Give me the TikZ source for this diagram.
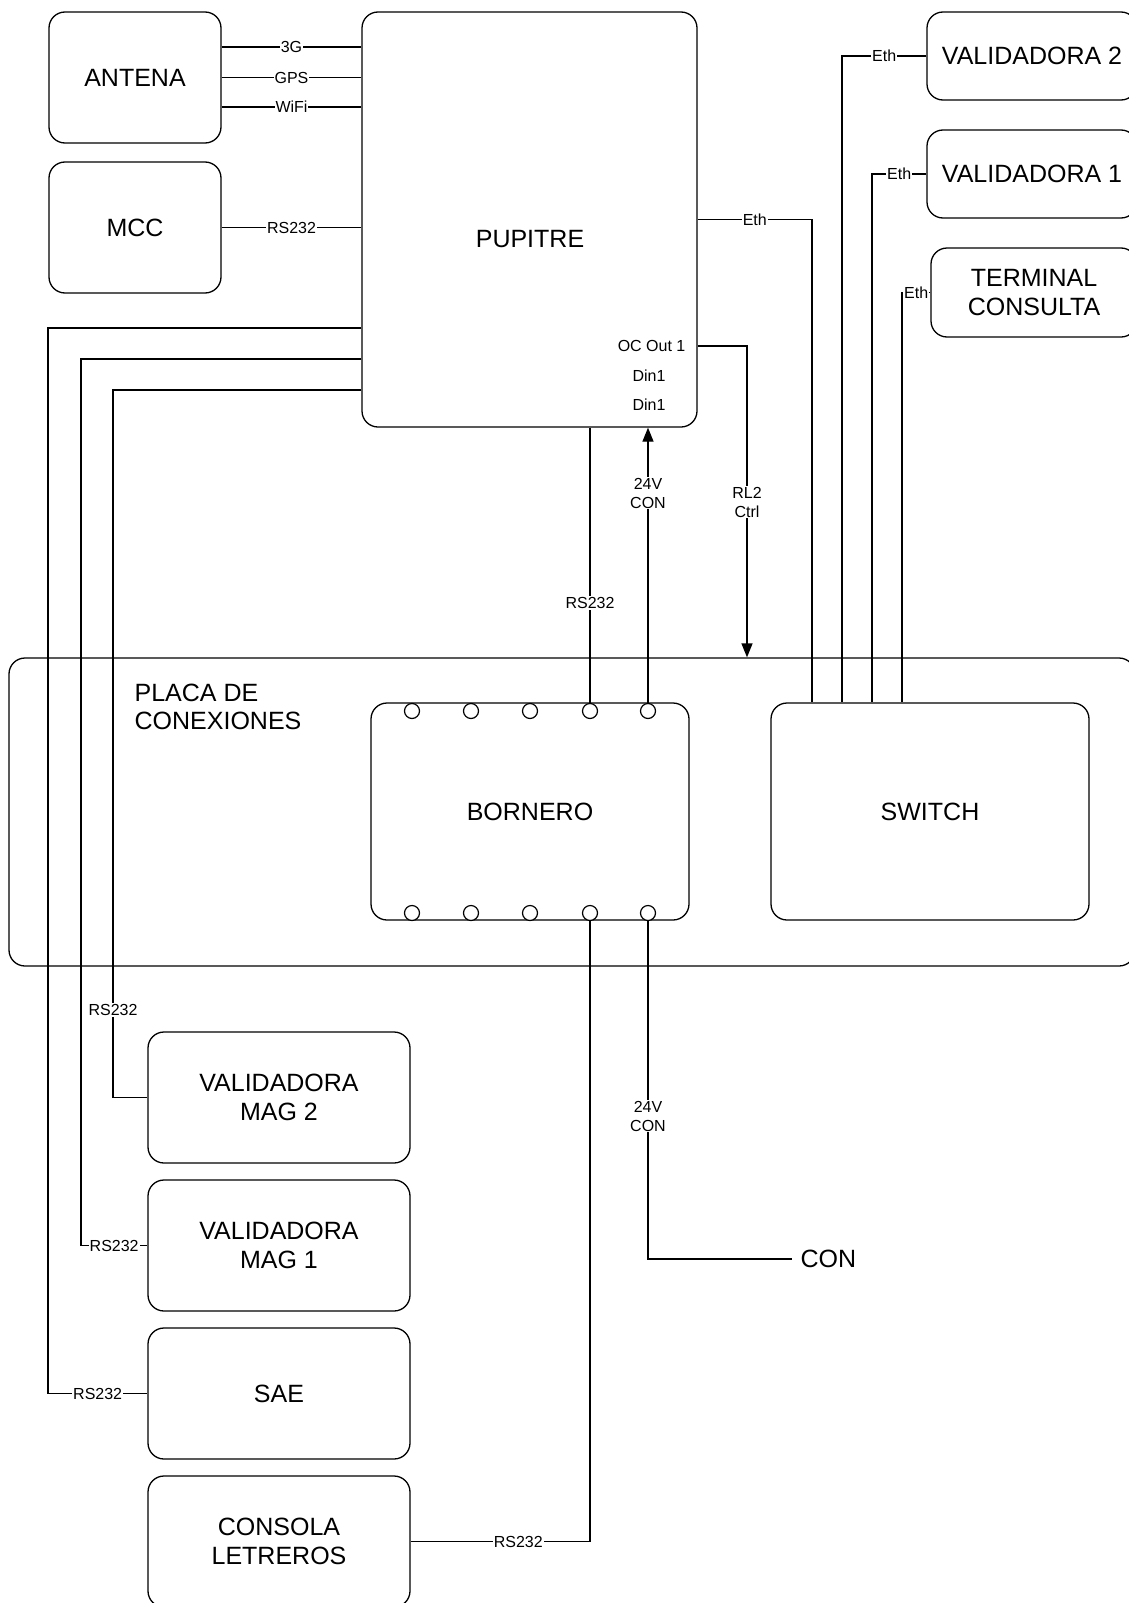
\documentclass[tikz,border=0pt]{standalone}
\usepackage{fontspec}
\setmainfont{Liberation Sans}
\usetikzlibrary{arrows.meta}
\newcommand{\bigtxt}{\fontsize{25}{28.5}\selectfont}
\newcommand{\smalltxt}{\fontsize{16}{19}\selectfont}

\begin{document}
\begin{tikzpicture}[x=1pt, y=-1pt, line width=1.3pt,
    box/.style={draw, rounded corners=16pt, align=center, font=\bigtxt, inner sep=0pt},
    lbl/.style={fill=white, inner sep=1pt, align=center, font=\smalltxt},
    port/.style={inner sep=0pt, font=\smalltxt},
    borne/.style={draw, circle, fill=white, minimum size=15pt, inner sep=0pt, line width=1.2pt},
    arr/.style={-{Triangle[length=14pt,width=11pt]}}]
    \useasboundingbox (0,0) rectangle (1129,1603);
    \clip (0,0) rectangle (1129,1603);

    % Top boxes
    \node[box, minimum width=172pt, minimum height=131pt] (antena) at (135,77.5) {ANTENA};
    \node[box, minimum width=172pt, minimum height=131pt] (mcc) at (135,227.5) {MCC};
    \node[box, minimum width=335pt, minimum height=415pt] (pupitre) at (529.5,219.5) {};
    \node[font=\bigtxt] (pupitrelbl) at (530,239) {PUPITRE};
    \node[box, minimum width=210pt, minimum height=88pt] (val2) at (1032,56) {VALIDADORA 2};
    \node[box, minimum width=210pt, minimum height=88pt] (val1) at (1032,174) {VALIDADORA 1};
    \node[box, minimum width=206pt, minimum height=89pt] (terminal) at (1034,292.5) {TERMINAL\\CONSULTA};

    % Ports
    \node[port, anchor=east] (ocout) at (686,346) {OC Out 1};
    \node[port] (din1a) at (649,376) {Din1};
    \node[port] (din1b) at (649,405) {Din1};

    % Placa de conexiones
    \node[box, minimum width=1126pt, minimum height=308pt] (placa) at (572,812) {};
    \node[font=\bigtxt, align=left, anchor=north west, inner sep=0pt] (placalbl) at (134,683) {PLACA DE\\CONEXIONES};
    \node[box, minimum width=318pt, minimum height=217pt] (bornero) at (530,811.5) {BORNERO};
    \node[box, minimum width=318pt, minimum height=217pt] (switch) at (930,811.5) {SWITCH};
    \foreach \i/\x in {1/412,2/471,3/530,4/590,5/648} {
        \node[borne] (bsup\i) at (\x,711) {};
        \node[borne] (binf\i) at (\x,913) {};
    }

    % Bottom boxes
    \node[box, minimum width=262pt, minimum height=131pt] (mag2) at (279,1097.5) {VALIDADORA\\MAG 2};
    \node[box, minimum width=262pt, minimum height=131pt] (mag1) at (279,1245.5) {VALIDADORA\\MAG 1};
    \node[box, minimum width=262pt, minimum height=131pt] (sae) at (279,1393.5) {SAE};
    \node[box, minimum width=262pt, minimum height=131pt] (consola) at (279,1541.5) {CONSOLA\\LETREROS};
    \node[font=\bigtxt, anchor=west, inner sep=8pt] (con) at (792,1259) {CON};

    % Antena / MCC
    \draw (antena.east |- 0,47) -- node[lbl] {3G} (pupitre.west |- 0,47);
    \draw (antena.east) -- node[lbl] {GPS} (pupitre.west |- antena.east);
    \draw (antena.east |- 0,107) -- node[lbl] {WiFi} (pupitre.west |- 0,107);
    \draw (mcc.east) -- node[lbl] {RS232} (pupitre.west |- mcc.east);

    % RS232 to the left side
    \draw (pupitre.west |- 0,328) -| (sae.west -| 48,0) -- node[lbl] {RS232} (sae.west);
    \draw (pupitre.west |- 0,359) -| (mag1.west -| 81,0) -- node[lbl] {RS232} (mag1.west);
    \draw (pupitre.west |- 0,390) -| (113,1010) node[lbl] {RS232} |- (mag2.west);

    % Ethernet
    \draw (pupitre.east) -| node[lbl, pos=0.25] {Eth} (switch.north -| 812,0);
    \draw (val2.west) -| node[lbl, pos=0.25] {Eth} (switch.north -| 842,0);
    \draw (val1.west) -| node[lbl, pos=0.25] {Eth} (switch.north -| 872,0);
    \draw (terminal.west) -| node[lbl, pos=0.25] {Eth} (switch.north -| 902,0);

    % Pupitre - bornero
    \draw (pupitre.south -| bsup4) -- (bsup4 |- 0,603) node[lbl] {RS232} -- (bsup4.north);
    \draw[arr] (bsup5.north) -- (bsup5 |- 0,493) node[lbl] {24V\\CON} -- (pupitre.south -| bsup5);
    \draw[arr] (pupitre.east |- ocout) -| (747,502) node[lbl] {RL2\\Ctrl} -- (placa.north -| 747,0);

    % Bornero outputs
    \draw (binf4.south) |- node[lbl, pos=0.7] {RS232} (consola.east);
    \draw (binf5.south) -- (binf5 |- 0,1116) node[lbl] {24V\\CON} |- (con.west);
\end{tikzpicture}
\end{document}
